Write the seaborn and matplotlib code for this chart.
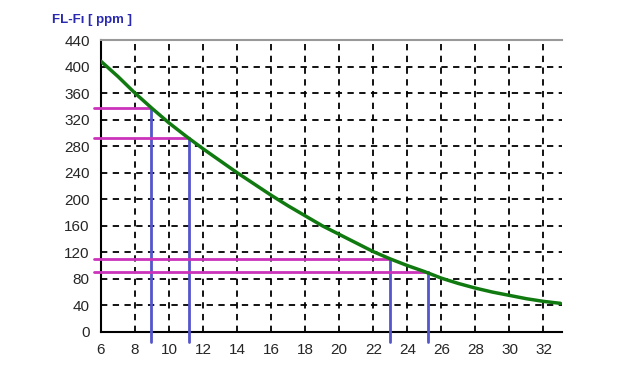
import matplotlib
matplotlib.use("Agg")
import matplotlib.pyplot as plt
import numpy as np
import pandas as pd
import seaborn as sns

# curve
temp = [6, 7, 8, 9, 10, 11, 12, 13, 14, 15, 16, 17, 18, 19, 20, 21, 22, 23, 24, 25, 26, 27, 28, 29, 30, 31, 32, 33]
ppm = [408, 385, 360, 337, 315, 295, 276, 258, 240, 223, 206, 190, 175, 160, 147, 134, 121, 110, 100, 91, 81, 73, 66, 60, 55, 50, 46, 43]

# marked reading points
mark_x = [8.95, 11.2, 23.0, 25.2]
mark_y = [338, 292, 110, 91]

xticks = list(range(6, 33, 2))
yticks = list(range(0, 441, 40))

df = pd.DataFrame({"x": temp, "y": ppm})

sns.set_style("white")
plt.rcParams['font.family'] = ['Liberation Sans', 'DejaVu Sans']

fig = plt.figure(figsize=(6.31, 3.78), dpi=100)
ax = fig.add_axes([0.160, 0.122, 0.731, 0.772])

ax.set_xlim(6, 33.1)
ax.set_ylim(0, 440)
ax.set_xticks(xticks)
ax.set_yticks(yticks)
ax.grid(True, color="black", linestyle=(0, (3.5, 3)), linewidth=1.3)
ax.tick_params(length=0, labelsize=11, pad=8)

x0 = 5.6
for mx, my in zip(mark_x, mark_y):
    ax.plot([x0, mx], [my, my], color="#cc33bb", lw=2, clip_on=False, zorder=3)
    ax.plot([mx, mx], [my, -15], color="#5555cc", lw=2, clip_on=False, zorder=3)

sns.lineplot(data=df, x="x", y="y", color="#107a10", lw=2.5, ax=ax, zorder=4)
ax.set_xlabel("")
ax.set_ylabel("")

for s in ["left", "bottom"]:
    ax.spines[s].set_color("black")
    ax.spines[s].set_linewidth(1.5)
ax.spines["top"].set_color("#999999")
ax.spines["top"].set_linewidth(1.5)
ax.spines["right"].set_visible(False)

fig.text(0.083, 0.947, "FL-Fı [ ppm ]", color="#2a2ab0", fontsize=9.5, fontweight="bold", va="center")

fig.savefig("out.png", dpi=100)
